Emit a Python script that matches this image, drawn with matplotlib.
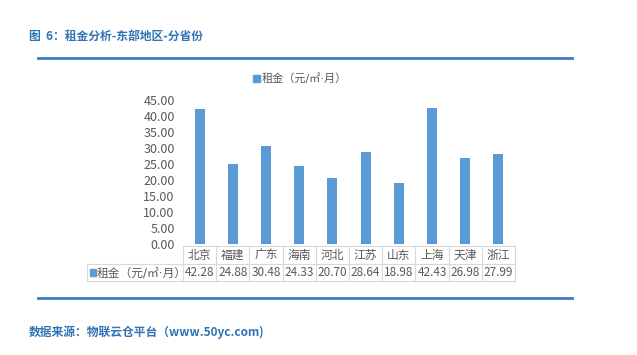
import matplotlib
matplotlib.use("Agg")
import matplotlib.pyplot as plt
from matplotlib.lines import Line2D
from matplotlib.patches import Rectangle

plt.rcParams['font.family'] = ['Noto Sans CJK SC', 'DejaVu Sans']

provinces = ['北京', '福建', '广东', '海南', '河北', '江苏', '山东', '上海', '天津', '浙江']
rent = [42.28, 24.88, 30.48, 24.33, 20.70, 28.64, 18.98, 42.43, 26.98, 27.99]
series_name = '租金（元/㎡·月）'
yticks = [0, 5, 10, 15, 20, 25, 30, 35, 40, 45]

W, H = 637, 355
bar_color = '#5B9BD5'
blue = '#2E74B5'
grey_txt = '#595959'
grid_c = '#D9D9D9'
# narrow middle dot from DejaVu, CJK glyphs from Noto
label_family = ['DejaVu Sans', 'Noto Sans CJK SC']

fig = plt.figure(figsize=(W / 100, H / 100), dpi=100)

def fx(px):
    return px / W

def fy(py):
    return 1 - py / H

# plot region
ax_l, ax_r, ax_t, ax_b = 183, 515, 100, 244
ax = fig.add_axes([fx(ax_l), fy(ax_b), fx(ax_r - ax_l), fy(ax_t) - fy(ax_b)])
x = range(len(provinces))
ax.bar(x, rent, width=0.3, color=bar_color)
ax.set_xlim(-0.5, len(provinces) - 0.5)
ax.set_ylim(0, 45)
ax.set_yticks(yticks)
ax.set_yticklabels([f'{v:.2f}' for v in yticks], color=grey_txt, fontsize=9)
ax.tick_params(axis='y', length=0, pad=6)
ax.set_xticks([])
for s in ax.spines.values():
    s.set_visible(False)

# legend above plot
fig.patches.append(Rectangle((fx(253), fy(82)), fx(7), fy(75) - fy(82),
                             color=bar_color, transform=fig.transFigure))
fig.text(fx(262), fy(78.5), series_name, fontsize=8, color=grey_txt, va='center',
         family=label_family)

# data table under the bars
row_top, row_mid, row_bot = 246, 264, 281
tbl_left = 87
col_w = (ax_r - ax_l) / len(provinces)

def hline(x0, x1, y):
    fig.lines.append(Line2D([fx(x0), fx(x1)], [fy(y), fy(y)], color=grid_c, lw=0.8,
                            transform=fig.transFigure))

def vline(xp, y0, y1):
    fig.lines.append(Line2D([fx(xp), fx(xp)], [fy(y0), fy(y1)], color=grid_c, lw=0.8,
                            transform=fig.transFigure))

hline(ax_l, ax_r, row_top)
hline(tbl_left, ax_r, row_mid)
hline(tbl_left, ax_r, row_bot)
vline(tbl_left, row_mid, row_bot)
for i in range(len(provinces) + 1):
    vline(ax_l + i * col_w, row_top, row_bot)

for i, (p, v) in enumerate(zip(provinces, rent)):
    cx = ax_l + (i + 0.5) * col_w
    fig.text(fx(cx), fy((row_top + row_mid) / 2), p, fontsize=8.5, color=grey_txt,
             ha='center', va='center')
    fig.text(fx(cx), fy((row_mid + row_bot) / 2), f'{v:.2f}', fontsize=8.5, color=grey_txt,
             ha='center', va='center')

fig.patches.append(Rectangle((fx(90), fy(276)), fx(6), fy(269) - fy(276),
                             color=bar_color, transform=fig.transFigure))
fig.text(fx(97), fy((row_mid + row_bot) / 2), series_name, fontsize=8.5, color=grey_txt,
         va='center', family=label_family)

# header, rules and source line
fig.text(fx(29), fy(36), '图  6：租金分析-东部地区-分省份', fontsize=8.5, fontweight='bold',
         color=blue, va='center')
fig.lines.append(Line2D([fx(38), fx(572)], [fy(58), fy(58)], color='#3C7CC4', lw=2,
                        transform=fig.transFigure))
fig.lines.append(Line2D([fx(38), fx(572)], [fy(298), fy(298)], color='#3C7CC4', lw=2,
                        transform=fig.transFigure))
fig.text(fx(29), fy(332), '数据来源：物联云仓平台（www.50yc.com)', fontsize=8.5,
         fontweight='bold', color=blue, va='center')

fig.savefig('out.png', dpi=100)
